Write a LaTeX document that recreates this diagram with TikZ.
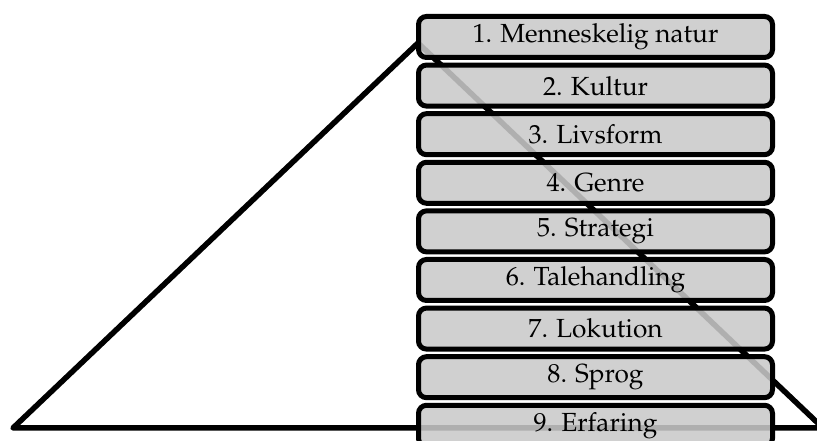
\documentclass[tikz,border=0pt]{standalone}
\usepackage[T1]{fontenc}
\usepackage{mathpazo}
\usetikzlibrary{positioning}
\definecolor{boxgray}{gray}{0.79}

\begin{document}
\begin{tikzpicture}[x=1pt,y=1pt,node distance=48.6pt]
    \tikzstyle{level}=[draw,line width=5pt,rounded corners=8pt,fill=boxgray,
      fill opacity=0.875,text opacity=1,minimum width=354pt,minimum height=41pt,
      inner sep=0pt,font=\fontsize{26.2}{30}\selectfont];
    \tikzstyle{edge}=[line width=5.5pt,line join=round];

    \useasboundingbox (0,0) rectangle (817,441);

    \coordinate (apex) at (418,398); \coordinate (baseL) at (13,13);
    \coordinate (baseR) at (823,13);
    \draw[edge] (baseL) -- (apex) -- (baseR) -- cycle;

    \node (n1) [level] at (595.5,404) {1. Menneskelig natur};
    \node (n2) [level,below of=n1] {2. Kultur};
    \node (n3) [level,below of=n2] {3. Livsform};
    \node (n4) [level,below of=n3] {4. Genre};
    \node (n5) [level,below of=n4] {5. Strategi};
    \node (n6) [level,below of=n5] {6. Talehandling};
    \node (n7) [level,below of=n6] {7. Lokution};
    \node (n8) [level,below of=n7] {8. Sprog};
    \node (n9) [level,below of=n8] {9. Erfaring};
  \end{tikzpicture}
\end{document}
